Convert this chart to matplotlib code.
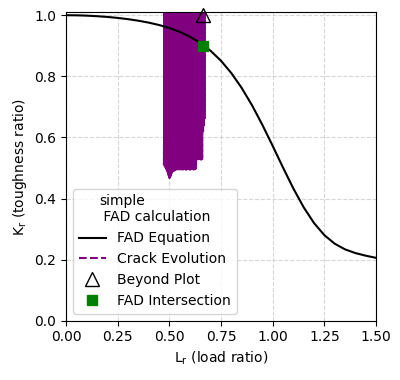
import matplotlib
matplotlib.use("Agg")
import matplotlib.pyplot as plt

# FAD equation curve (Lr, Kr)
fad_lr = [0.00, 0.05, 0.10, 0.15, 0.20, 0.25, 0.30, 0.35, 0.40, 0.45, 0.50,
          0.55, 0.60, 0.65, 0.70, 0.75, 0.80, 0.85, 0.90, 0.95, 1.00,
          1.05, 1.10, 1.15, 1.20, 1.25, 1.30, 1.35, 1.40, 1.45, 1.50]
fad_kr = [1.000, 0.9997, 0.9986, 0.9968, 0.9944, 0.9911, 0.9871, 0.9820, 0.9758, 0.9680, 0.9582,
          0.9457, 0.9297, 0.9093, 0.8834, 0.8508, 0.8106, 0.7620, 0.7053, 0.6413, 0.5723,
          0.5014, 0.4330, 0.3713, 0.3198, 0.2802, 0.2522, 0.2336, 0.2215, 0.2129, 0.2058]

# Crack evolution path (dense zig-zag; top points lie beyond the plot)
crack_lr = [0.474, 0.47625, 0.4785, 0.48075, 0.483, 0.48525, 0.4875, 0.48975, 0.492, 0.49425,
            0.4965, 0.49875, 0.501, 0.50325, 0.5055, 0.50775, 0.510, 0.51225, 0.5145, 0.51675,
            0.519, 0.52125, 0.5235, 0.52575, 0.528, 0.53025, 0.5325, 0.53475, 0.537, 0.53925,
            0.5415, 0.54375, 0.546, 0.54825, 0.5505, 0.55275, 0.555, 0.55725, 0.5595, 0.56175,
            0.564, 0.56625, 0.5685, 0.57075, 0.573, 0.57525, 0.5775, 0.57975, 0.582, 0.58425,
            0.5865, 0.58875, 0.591, 0.59325, 0.5955, 0.59775, 0.600, 0.60225, 0.6045, 0.60675,
            0.609, 0.61125, 0.6135, 0.61575, 0.618, 0.62025, 0.6225, 0.62475, 0.627, 0.62925,
            0.6315, 0.63375, 0.636, 0.63825, 0.6405, 0.64275, 0.645, 0.64725, 0.6495, 0.65175,
            0.654, 0.65625, 0.6585, 0.66075, 0.663, 0.66525, 0.6675, 0.66975, 0.672]
crack_kr = [0.509, 1.03, 0.505, 1.07, 0.500, 1.05, 0.493, 1.04, 0.486, 1.06,
            0.476, 1.03, 0.467, 1.07, 0.474, 1.05, 0.483, 1.04, 0.487, 1.06,
            0.490, 1.03, 0.492, 1.07, 0.494, 1.05, 0.496, 1.04, 0.495, 1.06,
            0.497, 1.03, 0.496, 1.07, 0.495, 1.05, 0.497, 1.04, 0.496, 1.06,
            0.495, 1.03, 0.496, 1.07, 0.497, 1.05, 0.496, 1.04, 0.495, 1.06,
            0.496, 1.03, 0.497, 1.07, 0.496, 1.05, 0.495, 1.04, 0.496, 1.06,
            0.497, 1.03, 0.496, 1.07, 0.495, 1.05, 0.496, 1.04, 0.497, 1.06,
            0.529, 1.03, 0.528, 1.07, 0.529, 1.05, 0.530, 1.04, 0.529, 1.06,
            0.528, 1.03, 0.529, 1.07, 0.620, 1.05, 0.640, 1.04, 0.660]

beyond_lr = [0.664]
beyond_kr = [1.0]
inter_lr = [0.664]
inter_kr = [0.900]

fig = plt.figure(figsize=(4.0, 3.8), dpi=100)
ax = fig.add_axes([0.165, 0.156, 0.775, 0.812])

ax.plot(fad_lr, fad_kr, color="black", lw=1.5, label="FAD Equation", zorder=3)
ax.plot(crack_lr, crack_kr, color="purple", ls="--", lw=1.5, label="Crack Evolution", zorder=2)
# same path again with shifted dash phase so the dense band reads as solid
ax.plot(crack_lr, crack_kr, color="purple", ls=(2.65, (3.7, 1.6)), lw=1.5, zorder=2)
ax.plot(beyond_lr, beyond_kr, ls="none", marker="^", markersize=10, markerfacecolor="none",
        markeredgecolor="black", label="Beyond Plot", zorder=4, clip_on=False)
ax.plot(inter_lr, inter_kr, ls="none", marker="s", markersize=7, color="green",
        label="FAD Intersection", zorder=5)

ax.set_xlim(0, 1.5)
ax.set_ylim(0, 1.01)
ax.set_xticks([0.0, 0.25, 0.5, 0.75, 1.0, 1.25, 1.5])
ax.set_yticks([0.0, 0.2, 0.4, 0.6, 0.8, 1.0])
ax.grid(True, linestyle="--", alpha=0.5)
ax.set_xlabel(r"L$_{\rm r}$ (load ratio)")
ax.set_ylabel(r"K$_{\rm r}$ (toughness ratio)")
ax.legend(loc="lower left", title="simple\n FAD calculation")

fig.savefig("out.png", dpi=100)
